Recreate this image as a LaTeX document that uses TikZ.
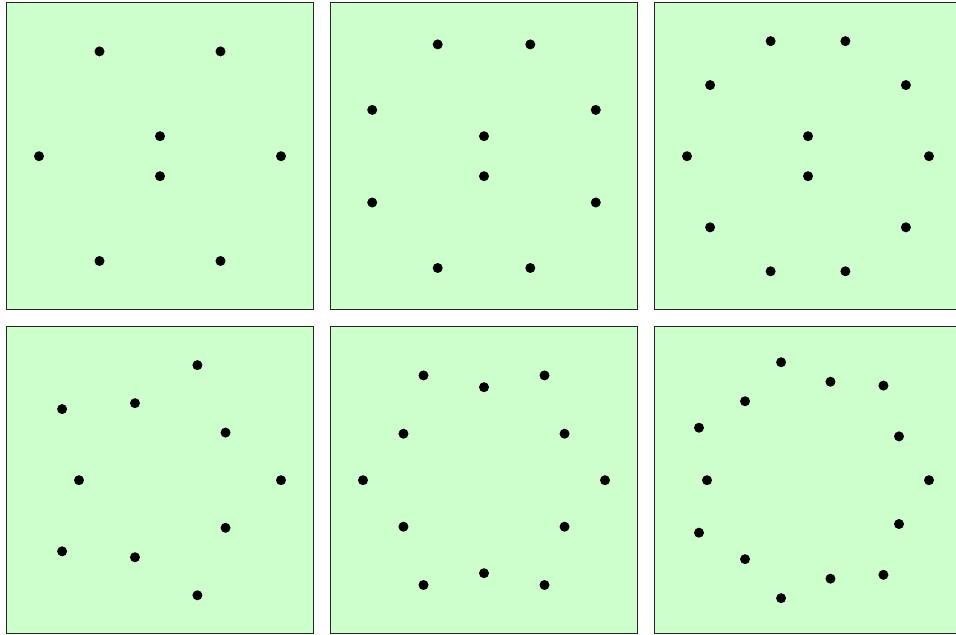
\documentclass[tikz,border=0pt]{standalone}
\usepackage{tikz}
\definecolor{panelgreen}{HTML}{CCFFCC}

\begin{document}
\begin{tikzpicture}[
  x=0.02cm, y=-0.02cm,
  panel/.style={draw=black!85, line width=0.8pt, fill=panelgreen},
  dot/.style={circle, fill=black, inner sep=0pt, minimum size=0.2cm},
]
\useasboundingbox (0,0) rectangle (956,635);

%% ---- Panels (2 rows x 3 columns) ----
\foreach \cx/\cy/\n in {160/156.2/1, 484/156.2/2, 808/156.2/3,
                        160/480.2/4, 484/480.2/5, 808/480.2/6} {
  \coordinate (c\n) at (\cx,\cy);
  \draw[panel] (\cx-153.5,\cy-153.5) rectangle (\cx+153.5,\cy+153.5);
}

%% ---- Panel 1: six outer, two inner ----
\begin{scope}[shift={(c1)}]
  \foreach \k in {0,...,5}
    \node[dot] (a-o\k) at (\k*60:121) {};
  \node[dot] (a-i1) at (0,-20) {};
  \node[dot] (a-i2) at (0,20) {};
\end{scope}

%% ---- Panel 2: eight outer, two inner ----
\begin{scope}[shift={(c2)}]
  \foreach \k in {0,...,7}
    \node[dot] (b-o\k) at (22.5+\k*45:121) {};
  \node[dot] (b-i1) at (0,-20) {};
  \node[dot] (b-i2) at (0,20) {};
\end{scope}

%% ---- Panel 3: ten outer, two inner ----
\begin{scope}[shift={(c3)}]
  \foreach \k in {0,...,9}
    \node[dot] (c-o\k) at (\k*36:121) {};
  \node[dot] (c-i1) at (0,-20) {};
  \node[dot] (c-i2) at (0,20) {};
\end{scope}

%% ---- Panel 4: five outer, five inner ----
\begin{scope}[shift={(c4)}]
  \foreach \k in {0,...,4} {
    \node[dot] (d-o\k) at (\k*72:121) {};
    \node[dot] (d-i\k) at (36+\k*72:81) {};
  }
\end{scope}

%% ---- Panel 5: six outer, six inner ----
\begin{scope}[shift={(c5)}]
  \foreach \k in {0,...,5} {
    \node[dot] (e-o\k) at (\k*60:121) {};
    \node[dot] (e-i\k) at (30+\k*60:93) {};
  }
\end{scope}

%% ---- Panel 6: seven outer, seven inner ----
\begin{scope}[shift={(c6)}]
  \foreach \k in {0,...,6} {
    \node[dot] (f-o\k) at (\k*360/7:121) {};
    \node[dot] (f-i\k) at (180/7+\k*360/7:101) {};
  }
\end{scope}

\end{tikzpicture}
\end{document}
